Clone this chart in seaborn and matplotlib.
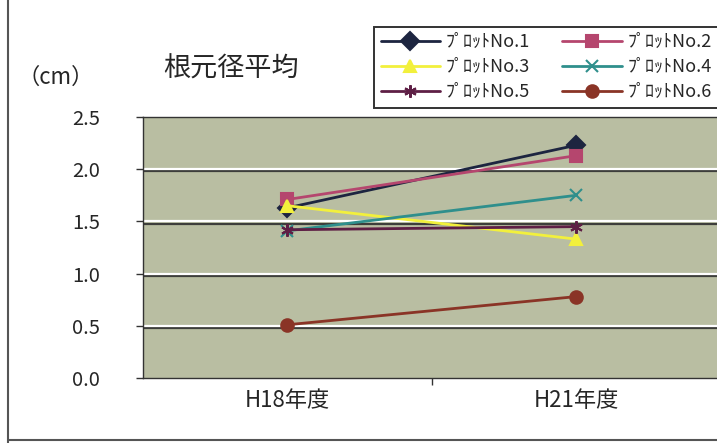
import numpy as np
import pandas as pd
import matplotlib
matplotlib.use("Agg")
import matplotlib.pyplot as plt
import matplotlib.patheffects as pe
from matplotlib.lines import Line2D
import seaborn as sns

years = ["H18年度", "H21年度"]
plots = ["ﾌﾟﾛｯﾄNo.1", "ﾌﾟﾛｯﾄNo.2", "ﾌﾟﾛｯﾄNo.3", "ﾌﾟﾛｯﾄNo.4", "ﾌﾟﾛｯﾄNo.5", "ﾌﾟﾛｯﾄNo.6"]
h18 = [1.63, 1.71, 1.65, 1.41, 1.42, 0.51]
h21 = [2.23, 2.13, 1.33, 1.75, 1.45, 0.78]
colors = ["#1d2540", "#b5466e", "#f2f03c", "#2f8f8c", "#5e1f45", "#8a3426"]
marks = ["D", "s", "^", "x", (6, 2, 0), "o"]

rows = []
for p, a, b in zip(plots, h18, h21):
    rows.append({"plot": p, "pos": 0, "value": a})
    rows.append({"plot": p, "pos": 1, "value": b})
df = pd.DataFrame(rows)

sns.set_style("white")
plt.rcParams["font.family"] = ["Noto Sans CJK JP", "DejaVu Sans"]

fig = plt.figure(figsize=(7.17, 4.43), dpi=100)
ax = fig.add_axes([0.1994, 0.1467, 0.806, 0.5892])
ax.set_facecolor("#b9bea2")

# excel style grid: white line with dark shadow
for yv in [0.5, 1.0, 1.5, 2.0]:
    ax.axhline(yv, color="white", lw=1.6, zorder=1,
               path_effects=[pe.SimpleLineShadow(offset=(0, -1.6), shadow_color="#303030", alpha=0.9), pe.Normal()])

for p, c, m in zip(plots, colors, marks):
    sns.lineplot(data=df[df["plot"] == p], x="pos", y="value", color=c, marker=m,
                 linewidth=2, markersize=9, markeredgewidth=1.5, markeredgecolor=c,
                 ax=ax, legend=False, zorder=3)

ax.set_xlim(-0.5, 1.5)
ax.set_ylim(0, 2.5)
ax.set_yticks([0.0, 0.5, 1.0, 1.5, 2.0, 2.5])
ax.set_yticklabels([f"{v:.1f}" for v in [0.0, 0.5, 1.0, 1.5, 2.0, 2.5]], fontsize=14.5)
ax.set_xticks([0, 1])
ax.set_xticklabels(years, fontsize=16)
ax.set_xticks([0.5], minor=True)
ax.tick_params(axis="y", which="major", length=5, width=1, color="#333333", pad=26, direction="out", left=True)
ax.tick_params(axis="x", which="major", length=0, pad=8)
ax.tick_params(axis="x", which="minor", length=5, width=1, color="#333333", bottom=True)
ax.set_xlabel("")
ax.set_ylabel("")
for s in ax.spines.values():
    s.set_color("#333333")
    s.set_linewidth(1)

fig.text(0.025, 0.825, "（cm）", fontsize=16, ha="left", va="center")
fig.text(0.228, 0.845, "根元径平均", fontsize=19.5, ha="left", va="center")

handles = [Line2D([], [], color=c, marker=m, lw=2, markersize=9, markeredgecolor=c, markeredgewidth=1.5)
           for c, m in zip(colors, marks)]
order = [0, 2, 4, 1, 3, 5]
leg = fig.legend([handles[i] for i in order], [plots[i] for i in order], ncol=2,
                 loc="upper left", bbox_to_anchor=(0.522, 0.94),
                 frameon=True, fancybox=False, edgecolor="black", fontsize=13,
                 handlelength=3.3, handletextpad=0.3, columnspacing=1.8,
                 labelspacing=0.4, borderpad=0.35, borderaxespad=0)
leg.get_frame().set_linewidth(1.4)

fig.add_artist(Line2D([0.011, 0.011], [0.0, 1.0], color="#555555", lw=1.5, transform=fig.transFigure))
fig.add_artist(Line2D([0.011, 1.0], [0.007, 0.007], color="#555555", lw=1.5, transform=fig.transFigure))

fig.savefig("out.png", dpi=100)
